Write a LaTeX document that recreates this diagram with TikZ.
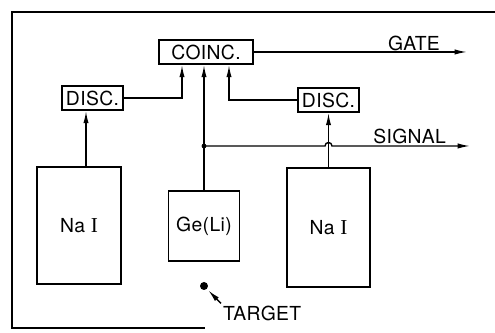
\documentclass[tikz,border=0pt]{standalone}
\usepackage{fontspec}
\setmainfont{TeX Gyre Heros}[LetterSpace=2]
\newfontfamily\romI{Liberation Serif}[Scale=1.1]
\usetikzlibrary{arrows.meta,positioning,calc}
\tikzset{
  arr/.style={-{Latex[length=7pt,width=3pt]},line width=0.8pt},
  box/.style={rectangle,draw,line width=1.1pt,inner sep=0pt,
    text centered,font=\fontsize{11}{13}\selectfont},
  discbox/.style={box,minimum width=1.22cm,minimum height=0.48cm},
  lbl/.style={font=\fontsize{11}{13}\selectfont,inner sep=1pt},
}

\begin{document}
\begin{tikzpicture}[x=0.02cm,y=0.02cm]
\useasboundingbox (0,0) rectangle (495,333);
% frame
\draw[line width=0.9pt] (495,321) -- (12,321) -- (12,5) -- (205,5);

\node[box,minimum width=1.88cm,minimum height=0.48cm] (coinc) at (206,281) {COINC.};
\node[discbox] (discL) at (92.5,235) {DISC.};
\node[discbox] (discR) at (328.5,233) {DISC.};

\node[box,minimum width=1.68cm,minimum height=2.34cm] (naiL) at (79,107.5) {Na~{\romI I}};
\node[box,minimum width=1.42cm,minimum height=1.40cm] (ge) at (204,107) {Ge(Li)};
\node[box,minimum width=1.66cm,minimum height=2.38cm] (naiR) at (328.5,105.5) {Na~{\romI I}};

\node[circle,fill,inner sep=0pt,minimum size=0.16cm] (target) at (204,47) {};
\node[lbl,anchor=west] (tgtlbl) at (221,20) {TARGET};

\coordinate (gateend) at (467,280);
\coordinate (sig) at (ge.north |- 0,187);
\coordinate (hop) at (naiR.north |- sig);
\coordinate (sigend) at (470,187);

\draw[arr] (coinc.east) -- (coinc.east -| gateend);
\node[lbl,above left=0pt and 0.5cm of gateend] (gatelbl) {GATE};

\draw[arr] (discL.east) -| ([xshift=-0.48cm]coinc.south);
\draw[arr] (discR.west) -| ([xshift=0.46cm]coinc.south);
\draw[arr] (ge.north) -- (ge.north |- coinc.south);
\draw[arr] ([xshift=0.14cm]naiL.north) -- ([xshift=0.14cm]naiL.north |- discL.south);
\draw[arr] (naiR.north) -- (discR.south);

\fill (sig) circle (2.4);
\draw[arr] (sig) -- ([xshift=-0.07cm]hop) arc[start angle=180,end angle=0,radius=0.07cm] -- (sigend);
\node[lbl,above left=0pt and 0.44cm of sigend] (siglbl) {SIGNAL};

\draw[arr,shorten >=1pt] (tgtlbl.north west) -- (target);
\end{tikzpicture}
\end{document}
